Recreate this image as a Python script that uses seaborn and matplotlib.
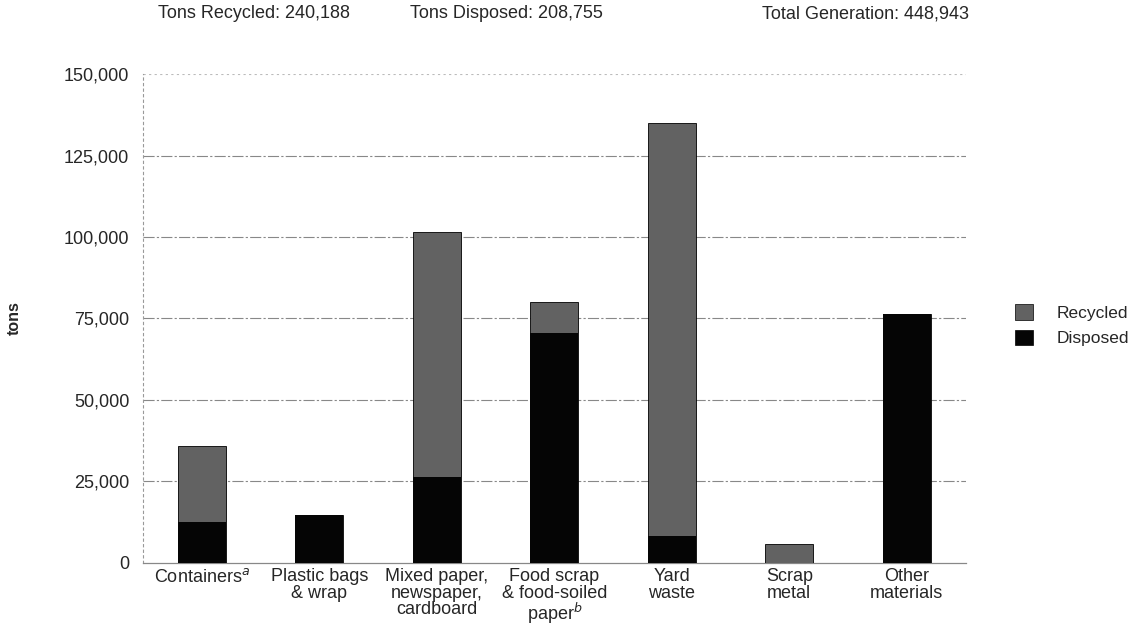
import numpy as np
import pandas as pd
import matplotlib
matplotlib.use('Agg')
import matplotlib.pyplot as plt
import matplotlib.patches as mpatches
from matplotlib.ticker import FuncFormatter
import seaborn as sns

categories = ['Containers$^{a}$', 'Plastic bags\n& wrap', 'Mixed paper,\nnewspaper,\ncardboard',
              'Food scrap\n& food-soiled\npaper$^{b}$', 'Yard\nwaste', 'Scrap\nmetal', 'Other\nmaterials']
recycled = [23200, 0, 75100, 9500, 126700, 5700, 0]
disposed = [12600, 14600, 26400, 70500, 8300, 0, 76500]
header = ['Tons Recycled: 240,188', 'Tons Disposed: 208,755', 'Total Generation: 448,943']

df = pd.DataFrame({'category': categories, 'recycled': recycled, 'disposed': disposed})
df['total'] = df['recycled'] + df['disposed']

sns.set_style('white')
plt.rcParams['font.family'] = ['Liberation Sans', 'DejaVu Sans']

fig = plt.figure(figsize=(11.36, 6.28), dpi=100)
ax = fig.add_axes([0.126, 0.104, 0.724, 0.778])

rec_color = '#626262'
dis_color = '#050505'

sns.barplot(data=df, x='category', y='total', color=rec_color, width=0.41,
            saturation=1, ax=ax, edgecolor='black', linewidth=0.6, zorder=3)
sns.barplot(data=df, x='category', y='disposed', color=dis_color, width=0.41,
            saturation=1, ax=ax, linewidth=0, zorder=4)

ax.set_ylim(0, 150000)
ax.set_xlim(-0.5, len(categories) - 0.5)
ax.set_yticks(np.arange(0, 150001, 25000))
ax.yaxis.set_major_formatter(FuncFormatter(lambda v, p: f'{int(v):,}'))
ax.tick_params(axis='y', labelsize=13, length=0, pad=10)
ax.tick_params(axis='x', labelsize=13, length=0, pad=4)
for lbl in ax.get_xticklabels():
    lbl.set_linespacing(0.95)

# category boundary ticks
ax.set_xticks(np.arange(-0.5, len(categories), 1), minor=True)
ax.tick_params(axis='x', which='minor', length=5, color='#777777', width=0.8)

for v in range(25000, 150000, 25000):
    ax.axhline(v, color='#888888', lw=0.8, ls=(0, (10, 2, 2, 2)), zorder=1)
ax.axhline(150000, color='#bbbbbb', lw=0.8, ls=(0, (2, 3)), zorder=1)

for s in ['top', 'right']:
    ax.spines[s].set_visible(False)
ax.spines['left'].set_linestyle((0, (2, 3)))
ax.spines['left'].set_color('#999999')
ax.spines['left'].set_linewidth(0.8)
ax.spines['bottom'].set_color('#888888')
ax.spines['bottom'].set_linewidth(0.9)

ax.set_xlabel('')
ax.set_ylabel('tons', fontsize=11.5, fontweight='bold', labelpad=30)

fig.text(0.139, 0.978, header[0], fontsize=13, va='center')
fig.text(0.361, 0.978, header[1], fontsize=13, va='center')
fig.text(0.671, 0.978, header[2], fontsize=13, va='center')

handles = [mpatches.Patch(facecolor=rec_color, edgecolor='black', lw=0.5, label='Recycled'),
           mpatches.Patch(facecolor=dis_color, edgecolor='black', lw=0.5, label='Disposed')]
fig.legend(handles=handles, loc='center left', bbox_to_anchor=(0.88, 0.482), frameon=False,
           fontsize=12.5, handlelength=1.0, handleheight=1.0, handletextpad=1.4, labelspacing=0.5)

fig.savefig('out.png', dpi=100)
